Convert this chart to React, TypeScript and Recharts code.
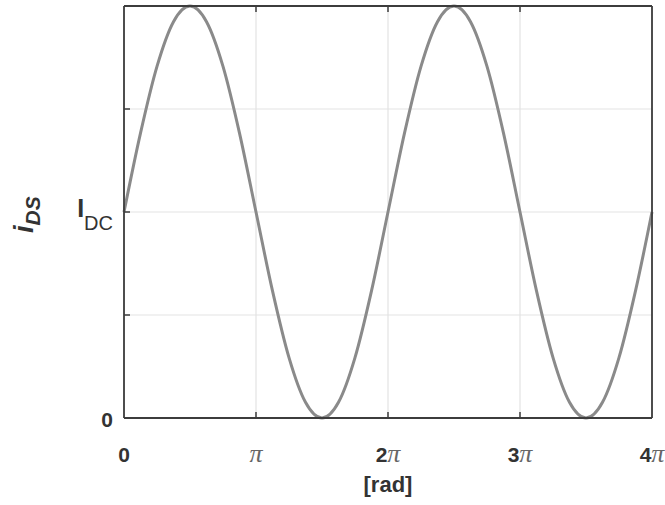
import React from "react";
import { LineChart, Line, XAxis, YAxis, CartesianGrid } from "recharts";

// x positions in units of pi (0 .. 4π), step π/8
const radInPi = [
  0, 0.125, 0.25, 0.375, 0.5, 0.625, 0.75, 0.875, 1, 1.125, 1.25, 1.375, 1.5, 1.625, 1.75, 1.875, 2,
  2.125, 2.25, 2.375, 2.5, 2.625, 2.75, 2.875, 3, 3.125, 3.25, 3.375, 3.5, 3.625, 3.75, 3.875, 4,
];
// i_DS values relative to I_DC (I_DC = 1)
const iDS = [
  1, 1.383, 1.707, 1.924, 2, 1.924, 1.707, 1.383, 1, 0.617, 0.293, 0.076, 0, 0.076, 0.293, 0.617, 1,
  1.383, 1.707, 1.924, 2, 1.924, 1.707, 1.383, 1, 0.617, 0.293, 0.076, 0, 0.076, 0.293, 0.617, 1,
];
const xTicks = [0, 1, 2, 3, 4];
const xTickLabels = ["0", "π", "2π", "3π", "4π"];
const yTicks = [0, 0.5, 1, 1.5, 2];

const data = radInPi.map((x, i) => ({ x, y: iDS[i] }));

const AX = "#3c3c3c";
const SANS = "'Liberation Sans', Arial, sans-serif";
const SERIF = "'Liberation Serif', 'Times New Roman', serif";

const BottomTick = (props: any) => {
  const { x, y, payload } = props;
  const idx = xTicks.indexOf(payload.value);
  const lab = xTickLabels[idx] ?? "";
  const num = lab.replace("π", "");
  const hasPi = lab.includes("π");
  return (
    <g>
      {payload.value !== 0 && payload.value !== 4 && (
        <line x1={x} x2={x} y1={y} y2={y - 6} stroke={AX} strokeWidth={1.5} />
      )}
      <text x={x} y={y + 44} textAnchor="middle" fontFamily={SANS} fontSize={21} fontWeight="bold" fill="#333">
        {num && <tspan>{num}</tspan>}
        {hasPi && (
          <tspan fontFamily={SERIF} fontWeight="normal" fontStyle="italic" fontSize={26} fill="#666">
            π
          </tspan>
        )}
      </text>
    </g>
  );
};

const TopTick = (props: any) => {
  const { x, y, payload } = props;
  if (payload.value === 0 || payload.value === 4) return <g />;
  return <line x1={x} x2={x} y1={y} y2={y + 6} stroke={AX} strokeWidth={1.5} />;
};

const LeftTick = (props: any) => {
  const { x, y, payload } = props;
  const v = payload.value;
  return (
    <g>
      {v !== 0 && v !== 2 && <line x1={x} x2={x + 6} y1={y} y2={y} stroke={AX} strokeWidth={1.5} />}
      {v === 0 && (
        <text x={x - 11} y={y + 9} textAnchor="end" fontFamily={SANS} fontSize={21} fontWeight="bold" fill="#333">
          0
        </text>
      )}
      {v === 1 && (
        <text x={x - 11} y={y + 5} textAnchor="end" fontFamily={SANS} fill="#333">
          <tspan fontSize={25} fontWeight="bold">I</tspan>
          <tspan fontSize={20} dy={13}>DC</tspan>
        </text>
      )}
    </g>
  );
};

const RightTick = (props: any) => {
  const { x, y, payload } = props;
  const v = payload.value;
  if (v === 0 || v === 2) return <g />;
  return <line x1={x} x2={x - 6} y1={y} y2={y} stroke={AX} strokeWidth={1.5} />;
};

const YLabel = () => (
  <text
    transform="translate(33,233) rotate(-90)"
    x={0}
    y={0}
    fontFamily={SANS}
    fontWeight="bold"
    fontStyle="italic"
    fill="#333"
  >
    <tspan fontSize={27}>i</tspan>
    <tspan fontSize={21} dy={7}>DS</tspan>
  </text>
);

const XLabel = () => (
  <text x={388} y={492} textAnchor="middle" fontFamily={SANS} fontWeight="bold" fontSize={22} fill="#333">
    [rad]
  </text>
);

export default function App() {
  return (
    <div style={{ position: "absolute", left: 0, top: 0, width: 665, height: 505, background: "#fff" }}>
      <LineChart width={665} height={505} data={data} margin={{ top: 0, right: 0, bottom: 0, left: 0 }}>
        <CartesianGrid xAxisId="b" yAxisId="l" stroke="#e3e3e3" strokeWidth={1.2} />
        <XAxis
          xAxisId="b"
          dataKey="x"
          type="number"
          domain={[0, 4]}
          ticks={xTicks}
          height={87}
          axisLine={{ stroke: AX, strokeWidth: 1.8 }}
          tickLine={false}
          tickSize={0}
          tickMargin={0}
          tick={<BottomTick />}
          interval={0}
          label={{ content: () => <XLabel /> }}
        />
        <XAxis
          xAxisId="t"
          orientation="top"
          dataKey="x"
          type="number"
          domain={[0, 4]}
          ticks={xTicks}
          height={6}
          axisLine={{ stroke: AX, strokeWidth: 1.8 }}
          tickLine={false}
          tickSize={0}
          tickMargin={0}
          tick={<TopTick />}
          interval={0}
        />
        <YAxis
          yAxisId="l"
          type="number"
          domain={[0, 2]}
          ticks={yTicks}
          width={124}
          axisLine={{ stroke: AX, strokeWidth: 1.8 }}
          tickLine={false}
          tickSize={0}
          tickMargin={0}
          tick={<LeftTick />}
          interval={0}
          label={{ content: () => <YLabel /> }}
        />
        <YAxis
          yAxisId="r"
          orientation="right"
          type="number"
          domain={[0, 2]}
          ticks={yTicks}
          width={13}
          axisLine={{ stroke: AX, strokeWidth: 1.8 }}
          tickLine={false}
          tickSize={0}
          tickMargin={0}
          tick={<RightTick />}
          interval={0}
        />
        <Line
          xAxisId="b"
          yAxisId="l"
          type="monotone"
          dataKey="y"
          stroke="#8a8a8a"
          strokeWidth={3}
          dot={false}
          isAnimationActive={false}
        />
      </LineChart>
    </div>
  );
}
